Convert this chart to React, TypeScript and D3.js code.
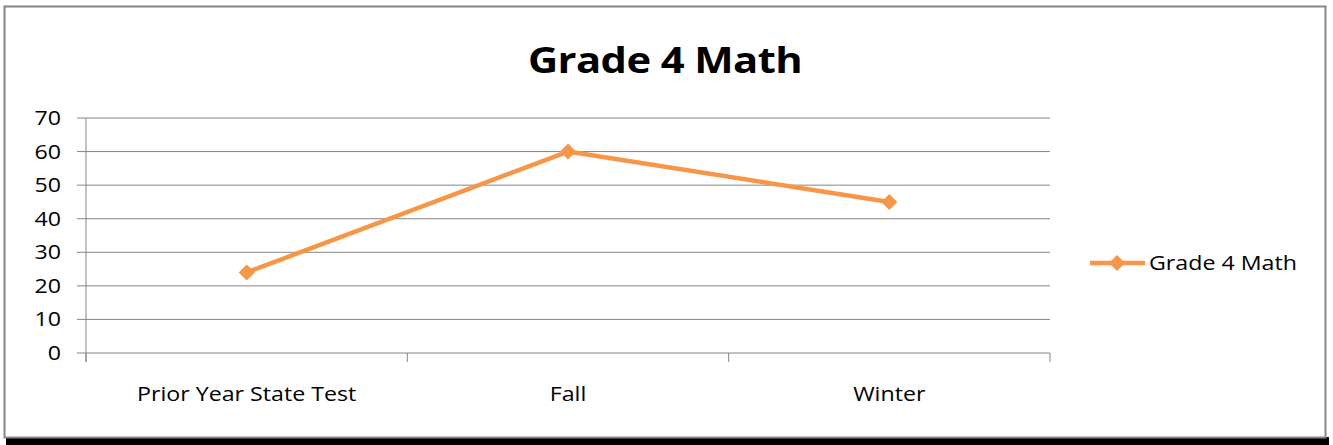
import React from "react";
import * as d3 from "d3";

const categories = ["Prior Year State Test", "Fall", "Winter"];
const values = [24, 60, 45];
const yTicks = [0, 10, 20, 30, 40, 50, 60, 70];
const seriesName = "Grade 4 Math";
const title = "Grade 4 Math";

const W = 1333;
const H = 445;
const plot = { left: 86, right: 1050, top: 118, bottom: 353 };
const orange = "#F79646";
const font = "'Open Sans', sans-serif";
// the source text is a bit wider than Open Sans
const sx = 1.16;

const at = (x: number, y: number) => `translate(${x},${y}) scale(${sx},1)`;

export default function App() {
  const x = d3
    .scaleBand<string>()
    .domain(categories)
    .range([plot.left, plot.right]);
  const y = d3.scaleLinear().domain([0, 70]).range([plot.bottom, plot.top]);

  const line = d3
    .line<number>()
    .x((_, i) => (x(categories[i]) as number) + x.bandwidth() / 2)
    .y((d) => y(d));

  const diamond = (cx: number, cy: number, r: number) =>
    `M${cx},${cy - r}L${cx + r},${cy}L${cx},${cy + r}L${cx - r},${cy}Z`;

  const catEdges = [...categories.map((c) => x(c) as number), plot.right];

  return (
    <div style={{ position: "fixed", left: 0, top: 0 }}>
      <svg width={W} height={H} style={{ display: "block" }}>
        <rect x={0} y={0} width={W} height={H} fill="#fff" />
        {/* shadow */}
        <rect x={6} y={437} width={1323} height={8} fill="#000" />
        {/* frame */}
        <rect
          x={4.5}
          y={6.5}
          width={1321}
          height={431}
          fill="#fff"
          stroke="#868686"
          strokeWidth={2}
        />

        <text
          transform={at(665, 73)}
          textAnchor="middle"
          fontFamily={font}
          fontWeight="bold"
          fontSize={36}
          letterSpacing={-0.5}
          fill="#000"
        >
          {title}
        </text>

        {/* gridlines + y ticks */}
        {yTicks.map((t) => (
          <g key={t}>
            <line
              x1={plot.left - 9}
              x2={plot.right}
              y1={y(t)}
              y2={y(t)}
              stroke="#868686"
              strokeWidth={1}
            />
            <text
              transform={at(61, y(t))}
              dy="0.35em"
              textAnchor="end"
              fontFamily={font}
              fontSize={20}
              fill="#000"
            >
              {t}
            </text>
          </g>
        ))}

        {/* y axis */}
        <line
          x1={plot.left}
          x2={plot.left}
          y1={plot.top}
          y2={plot.bottom + 9}
          stroke="#868686"
        />
        {/* x ticks */}
        {catEdges.map((ex, i) => (
          <line
            key={i}
            x1={ex}
            x2={ex}
            y1={plot.bottom}
            y2={plot.bottom + 9}
            stroke="#868686"
          />
        ))}
        {categories.map((c) => (
          <text
            key={c}
            transform={at((x(c) as number) + x.bandwidth() / 2, 401)}
            textAnchor="middle"
            fontFamily={font}
            fontSize={20}
            fill="#000"
          >
            {c}
          </text>
        ))}

        {/* series */}
        <path
          d={line(values) || ""}
          fill="none"
          stroke={orange}
          strokeWidth={4.5}
          strokeLinejoin="round"
        />
        {values.map((v, i) => (
          <path
            key={i}
            d={diamond(
              (x(categories[i]) as number) + x.bandwidth() / 2,
              y(v),
              8
            )}
            fill={orange}
          />
        ))}

        {/* legend */}
        <line
          x1={1090}
          x2={1145}
          y1={263}
          y2={263}
          stroke={orange}
          strokeWidth={4.5}
        />
        <path d={diamond(1117, 263, 8)} fill={orange} />
        <text
          transform={at(1149, 263)}
          dy="0.35em"
          fontFamily={font}
          fontSize={20}
          fill="#000"
        >
          {seriesName}
        </text>
      </svg>
    </div>
  );
}
